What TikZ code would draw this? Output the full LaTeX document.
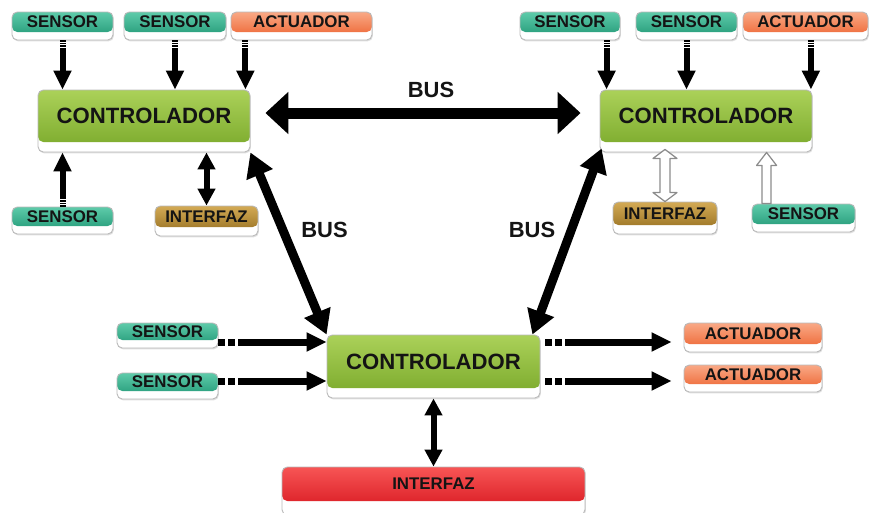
\documentclass[tikz,border=0pt]{standalone}
\usepackage{fontspec}
\setmainfont{Liberation Sans}
\usetikzlibrary{arrows.meta,shadows,calc}

\definecolor{sensL}{HTML}{5ECBAA}
\definecolor{sensD}{HTML}{1C9371}
\definecolor{actL}{HTML}{F9A986}
\definecolor{actD}{HTML}{EC5E2A}
\definecolor{ctrlL}{HTML}{ABD159}
\definecolor{ctrlD}{HTML}{79A82A}
\definecolor{intfL}{HTML}{D3AA55}
\definecolor{intfD}{HTML}{906A1C}
\definecolor{redL}{HTML}{F75555}
\definecolor{redD}{HTML}{D5131C}
\definecolor{txt}{HTML}{141414}

\begin{document}
\begin{tikzpicture}[x=0.02cm, y=-0.02cm,
  unit/.style={rectangle, rounded corners=3pt, draw=black!28, line width=0.5pt,
    fill=white, inner sep=0pt,
    drop shadow={shadow xshift=0.5pt, shadow yshift=-0.8pt, opacity=0.25}},
  tint/.style n args={3}{path picture={
    \shade[top color=#1, bottom color=#2]
      (path picture bounding box.north west) rectangle
      ([yshift=#3]path picture bounding box.south east);}},
  tag/.style={font=\bfseries\fontsize{9.6}{10}\selectfont, text=txt, yshift=0.08cm},
  bigtag/.style={font=\bfseries\fontsize{12.6}{13}\selectfont, text=txt, yshift=0.1cm},
  sensor/.style={unit, tint={sensL}{sensD}{0.16cm}, minimum height=0.56cm,
    label={[tag]center:SENSOR}},
  actuator/.style={unit, tint={actL}{actD}{0.16cm}, minimum height=0.56cm,
    label={[tag]center:ACTUADOR}},
  iface/.style={unit, tint={intfL}{intfD}{0.18cm}, minimum height=0.62cm,
    label={[tag]center:INTERFAZ}},
  ctrl/.style={unit, tint={ctrlL}{ctrlD}{0.2cm}, minimum width=4.24cm,
    minimum height=1.24cm, label={[bigtag]center:CONTROLADOR}},
  buslabel/.style={font=\bfseries\fontsize{12.5}{13}\selectfont, text=txt},
  feed/.style={line width=0.12cm,
    dash pattern={on 0.7pt off 0.7pt on 0.7pt off 0.7pt on 0.7pt off 0.7pt on 200pt},
    -{Triangle[length=0.38cm, width=0.34cm]}},
  both/.style={line width=0.12cm,
    {Triangle[length=0.34cm, width=0.34cm]}-{Triangle[length=0.34cm, width=0.34cm]}},
  side/.style={line width=0.14cm,
    dash pattern={on 4pt off 1.7pt on 4pt off 1.7pt on 200pt},
    -{Triangle[length=0.4cm, width=0.36cm]}},
  bus/.style={line width=0.22cm,
    {Triangle[length=0.46cm, width=0.82cm]}-{Triangle[length=0.46cm, width=0.82cm]}},
  busd/.style={line width=0.18cm,
    {Triangle[length=0.48cm, width=0.54cm]}-{Triangle[length=0.48cm, width=0.54cm]}},
  hollow/.style={draw=black!45, line width=0.7pt, fill=white, line join=round}
]
\useasboundingbox (0,0) rectangle (872,512);

% ---- left cell ----
\node[sensor, minimum width=2.02cm] (s1) at (62.5,26) {};
\node[sensor, minimum width=2.04cm] (s2) at (175,26) {};
\node[actuator, minimum width=2.82cm] (a1) at (301.5,26) {};
\node[ctrl] (cL) at (144,121) {};
\node[sensor, minimum width=2.02cm, minimum height=0.54cm] (s3) at (62.5,220.5) {};
\node[iface, minimum width=2.06cm, minimum height=0.6cm] (i1) at (206.5,221) {};

% ---- right cell ----
\node[sensor, minimum width=2.0cm] (s4) at (570,26) {};
\node[sensor, minimum width=2.02cm] (s5) at (686.5,26) {};
\node[actuator, minimum width=2.5cm] (a2) at (805.5,26) {};
\node[ctrl] (cR) at (706,121) {};
\node[iface, minimum width=2.08cm, minimum height=0.64cm] (i2) at (665,218) {};
\node[sensor, minimum width=2.06cm] (s6) at (803.5,218) {};

% ---- bottom cell ----
\node[ctrl, minimum width=4.26cm, minimum height=1.26cm] (cB) at (433.5,366.5) {};
\node[sensor, minimum width=2.02cm, minimum height=0.5cm] (s7) at (167.5,335.5) {};
\node[sensor, minimum width=2.02cm, minimum height=0.52cm] (s8) at (167.5,386) {};
\node[actuator, minimum width=2.76cm, minimum height=0.58cm] (a3) at (753,337.5) {};
\node[actuator, minimum width=2.76cm, minimum height=0.54cm] (a4) at (753,378.5) {};
\node[unit, tint={redL}{redD}{0.28cm}, minimum width=6.06cm, minimum height=0.96cm,
  label={[tag, yshift=0.06cm]center:INTERFAZ}] (iB) at (433.5,491) {};

% ---- bus labels ----
\node[buslabel] (busTop) at (431,90) {BUS};
\node[buslabel] (busLeft) at (324.5,229.5) {BUS};
\node[buslabel] (busRight) at (532,229.5) {BUS};

% ---- left cell connectors ----
\draw[feed] (s1.south) -- (s1.south |- cL.north);
\draw[feed] (s2.south) -- (s2.south |- cL.north);
\coordinate (pL) at ([xshift=-0.1cm]cL.north east);
\draw[feed] (pL |- a1.south) -- (pL);
\draw[feed] (s3.north) -- (s3.north |- cL.south);
\draw[both] (i1.north) -- (i1.north |- cL.south);

% ---- right cell connectors ----
\coordinate (pR) at ([xshift=0.14cm]cR.north west);
\draw[feed] (pR |- s4.south) -- (pR);
\draw[feed] (s5.south) -- (s5.south |- cR.north);
\coordinate (pA) at ([xshift=-0.03cm]cR.north east);
\draw[feed] (pA |- a2.south) -- (pA);
% hollow two-way arrow to the interface
\coordinate (hT) at ([yshift=0.06cm]i2.north |- cR.south);
\coordinate (hB) at (i2.north);
\draw[hollow] (hT) -- ($(hT)+(12,9)$) -- ($(hT)+(5,9)$) -- ($(hB)+(5,-9)$)
  -- ($(hB)+(12,-9)$) -- (hB) -- ($(hB)+(-12,-9)$) -- ($(hB)+(-5,-9)$)
  -- ($(hT)+(-5,9)$) -- ($(hT)+(-12,9)$) -- cycle;
% hollow one-way arrow from the sensor
\coordinate (pS) at ($(s6.north west)+(15,0)$);
\coordinate (hS) at (pS |- cR.south);
\draw[hollow] (hS) -- ($(hS)+(10,13)$) -- ($(hS)+(4.5,13)$) -- ($(pS)+(4.5,0)$)
  -- ($(pS)+(-4.5,0)$) -- ($(hS)+(-4.5,13)$) -- ($(hS)+(-10,13)$) -- cycle;

% ---- bottom cell connectors ----
\coordinate (r1) at (0,342);
\coordinate (r2) at (0,381);
\draw[side] (s7.east |- r1) -- (cB.west |- r1);
\draw[side] (s8.east |- r2) -- (cB.west |- r2);
\draw[side, shorten <=0.1cm, shorten >=0.24cm] (cB.east |- r1) -- (a3.west |- r1);
\draw[side, shorten <=0.1cm, shorten >=0.24cm] (cB.east |- r2) -- (a4.west |- r2);
\draw[both] (cB.south) -- (iB.north);

% ---- buses between controllers ----
\draw[bus, shorten <=0.3cm, shorten >=0.38cm]
  ([yshift=0.16cm]cL.east) -- ([yshift=0.16cm]cR.west);
\draw[busd] (cL.south east) -- (cB.north west);
\draw[busd] ([xshift=0.04cm, yshift=0.08cm]cR.south west) -- ([xshift=-0.16cm]cB.north east);
\end{tikzpicture}
\end{document}
